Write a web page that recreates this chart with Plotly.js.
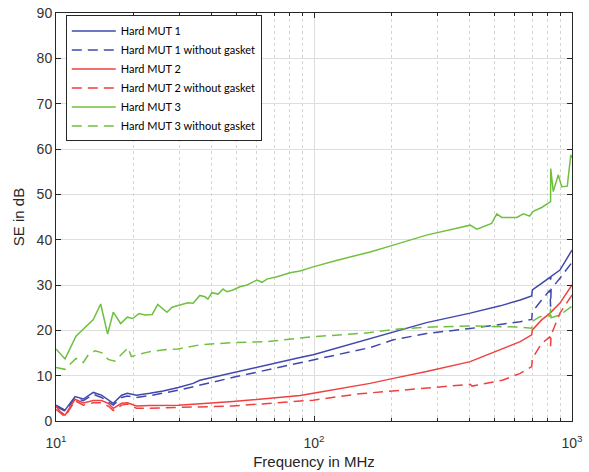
<!DOCTYPE html>
<html>
<head>
<meta charset="utf-8">
<script src="https://cdn.plot.ly/plotly-3.0.1.min.js"></script>
<style>html,body{margin:0;padding:0;background:#fff;}#chart{width:589px;height:472px;}</style>
</head>
<body>
<div id="chart"></div>
<script>
// Hard MUT 1 (blue, solid)
var freqMut1 = [10, 10.84, 11.85, 12.76, 13.95, 15.0, 16.67, 17.96, 18.9, 20.5, 23.1, 26.0, 29.8, 34.0, 36.1, 48.6, 65.6, 88.3, 99.3, 150, 165, 203, 273, 403, 527, 630, 698, 702, 763, 822, 826, 830, 898, 1000];
var seMut1   = [3.5, 2.4, 5.4, 4.85, 6.3, 5.7, 3.9, 5.7, 6.1, 5.7, 6.1, 6.6, 7.4, 8.3, 9.0, 10.7, 12.3, 14.0, 14.6, 17.5, 18.2, 19.7, 21.7, 23.8, 25.4, 26.7, 27.6, 28.9, 30.4, 31.7, 31.2, 31.9, 33.3, 37.7];
// Hard MUT 1 without gasket (blue, dashed)
var freqMut1ng = [10, 10.84, 11.85, 12.76, 13.95, 15.0, 16.67, 17.96, 18.9, 20.5, 23.1, 29.8, 50.1, 99.3, 150, 165, 203, 273, 403, 527, 630, 698, 702, 763, 822, 826, 830, 898, 1000];
var seMut1ng   = [3.2, 2.2, 5.0, 4.5, 5.9, 5.2, 3.5, 5.2, 5.5, 5.2, 5.6, 6.8, 9.8, 13.5, 15.8, 16.2, 17.9, 19.3, 20.4, 21.2, 21.9, 22.4, 24.1, 26.7, 28.9, 25.2, 29.1, 31.5, 35.0];
// Hard MUT 2 (red, solid)
var freqMut2 = [10, 10.36, 10.84, 11.85, 12.76, 13.95, 15.0, 15.94, 16.67, 17.96, 18.9, 20.5, 23.1, 29.8, 48.5, 88.3, 99.3, 150, 165, 203, 273, 403, 527, 630, 698, 702, 763, 822, 898, 1000];
var seMut2   = [3.3, 2.1, 1.3, 4.8, 4.0, 4.5, 4.5, 3.9, 2.8, 3.9, 4.0, 3.3, 3.4, 3.5, 4.3, 5.6, 6.1, 7.9, 8.3, 9.4, 10.9, 13.1, 15.7, 17.5, 19.0, 20.1, 22.3, 23.8, 26.0, 30.0];
// Hard MUT 2 without gasket (red, dashed)
var freqMut2ng = [10, 10.84, 11.85, 12.76, 13.95, 15.0, 15.94, 16.67, 17.96, 18.9, 20.5, 23.1, 29.8, 48.5, 88.3, 99.3, 150, 200, 298, 403, 410, 494, 537, 585, 630, 698, 702, 763, 822, 826, 830, 898, 1000];
var seMut2ng   = [2.6, 0.95, 4.5, 3.5, 4.0, 4.0, 3.3, 2.3, 3.5, 3.75, 2.8, 2.8, 3.0, 3.3, 4.4, 4.6, 6.0, 6.6, 7.5, 8.1, 7.7, 8.7, 9.0, 9.8, 10.5, 12.0, 13.8, 17.1, 18.6, 16.5, 19.0, 23.8, 27.8];
// Hard MUT 3 (green, solid)
var freqMut3 = [10, 10.84, 11.95, 12.95, 13.95, 14.9, 15.85, 16.67, 17.8, 18.9, 19.8, 21.0, 22.1, 23.6, 24.8, 26.9, 28.2, 30.2, 32.5, 34.0, 36.1, 37.8, 38.8, 40.2, 42.5, 44.4, 46.0, 48.5, 51.6, 55.0, 60.1, 62.9, 65.7, 71.9, 80.7, 88.3, 99.3, 122, 150, 165, 203, 273, 368, 403, 428, 452, 488, 511, 534, 611, 648, 686, 704, 763, 809, 826, 827, 846, 885, 912, 959, 989, 1000];
var seMut3   = [15.9, 13.7, 18.7, 20.6, 22.4, 25.8, 19.2, 24.0, 21.5, 22.9, 22.6, 23.7, 23.4, 23.5, 25.7, 24.0, 25.1, 25.6, 26.1, 26.0, 27.7, 27.4, 26.9, 28.3, 28.0, 29.1, 28.5, 28.9, 29.6, 30.0, 31.1, 30.6, 31.3, 31.8, 32.7, 33.1, 34.0, 35.4, 36.6, 37.3, 38.8, 41.0, 42.7, 43.2, 42.3, 42.9, 43.6, 45.7, 44.9, 44.9, 45.7, 45.2, 46.2, 47.1, 48.2, 48.4, 55.7, 50.6, 54.3, 51.7, 51.8, 58.7, 58.0];
// Hard MUT 3 without gasket (green, dashed)
var freqMut3ng = [10, 10.84, 11.95, 12.76, 13.34, 14.16, 15.0, 15.94, 16.9, 17.96, 18.9, 19.0, 19.6, 21.2, 23.1, 27.3, 29.8, 36.1, 48.5, 65.7, 88.3, 99.3, 150, 165, 203, 273, 403, 527, 630, 698, 702, 751, 822, 826, 830, 898, 1000];
var seMut3ng   = [11.8, 11.4, 13.8, 12.9, 14.6, 15.5, 15.1, 13.6, 13.2, 14.6, 16.0, 16.2, 14.2, 14.8, 15.3, 15.8, 15.9, 16.8, 17.3, 17.5, 18.2, 18.6, 19.3, 19.5, 20.2, 20.7, 20.96, 20.8, 20.7, 20.45, 22.0, 23.0, 23.2, 24.8, 22.8, 23.4, 25.3];

var seriesNames = ['Hard MUT 1', 'Hard MUT 1 without gasket', 'Hard MUT 2', 'Hard MUT 2 without gasket', 'Hard MUT 3', 'Hard MUT 3 without gasket'];
var xTickVals = [10, 100, 1000];
var xTickText = ['10<sup>1</sup>', '10<sup>2</sup>', '10<sup>3</sup>'];
var xMinorVals = [20, 30, 40, 50, 60, 70, 80, 90, 200, 300, 400, 500, 600, 700, 800, 900];

var blue = 'rgb(64,72,172)', red = 'rgb(240,64,64)', green = 'rgb(112,192,64)';
var dashPat = '10px,6px';

function tr(x, y, name, color, dash) {
  return {x: x, y: y, name: name, type: 'scatter', mode: 'lines',
          line: {color: color, width: 1.5, dash: dash}};
}
var data = [
  tr(freqMut1, seMut1, seriesNames[0], blue, 'solid'),
  tr(freqMut1ng, seMut1ng, seriesNames[1], blue, dashPat),
  tr(freqMut2, seMut2, seriesNames[2], red, 'solid'),
  tr(freqMut2ng, seMut2ng, seriesNames[3], red, dashPat),
  tr(freqMut3, seMut3, seriesNames[4], green, 'solid'),
  tr(freqMut3ng, seMut3ng, seriesNames[5], green, dashPat)
];

var axisColor = '#262626';
var tickFont = {family: 'Liberation Sans, Arial, sans-serif', size: 14, color: '#333'};
var titleFont = {family: 'Liberation Sans, Arial, sans-serif', size: 15, color: '#262626'};

var layout = {
  width: 589, height: 472,
  margin: {l: 56, r: 17, t: 13, b: 51},
  paper_bgcolor: '#fff', plot_bgcolor: '#fff',
  showlegend: true,
  legend: {x: 0.019, y: 0.994, xanchor: 'left', yanchor: 'top', bgcolor: '#fff',
           bordercolor: axisColor, borderwidth: 1, itemwidth: 44,
           font: {family: 'Lato, Noto Sans, sans-serif', size: 11, color: '#000'}},
  xaxis: {type: 'log', range: [1, 3], tickmode: 'array', tickvals: xTickVals, ticktext: xTickText,
          ticks: 'inside', ticklen: 5, tickcolor: axisColor, showline: true, linecolor: axisColor,
          linewidth: 1, mirror: 'ticks', showgrid: true, gridcolor: '#dedede', zeroline: false,
          tickfont: tickFont, ticklabelstandoff: 9,
          minor: {tickmode: 'array', tickvals: xMinorVals, ticks: 'inside', ticklen: 3, tickcolor: axisColor,
                  showgrid: true, gridcolor: '#d4d4d4', griddash: 'dot'},
          title: {text: 'Frequency in MHz', font: titleFont, standoff: 6}},
  yaxis: {range: [0, 90], dtick: 10, tick0: 0, ticks: 'inside', ticklen: 5, tickcolor: axisColor,
          showline: true, linecolor: axisColor, linewidth: 1, mirror: 'ticks',
          showgrid: true, gridcolor: '#dedede', zeroline: false, tickfont: tickFont,
          title: {text: 'SE in dB', font: titleFont, standoff: 8}}
};

Plotly.newPlot('chart', data, layout, {displayModeBar: false, staticPlot: true});
</script>
</body>
</html>
